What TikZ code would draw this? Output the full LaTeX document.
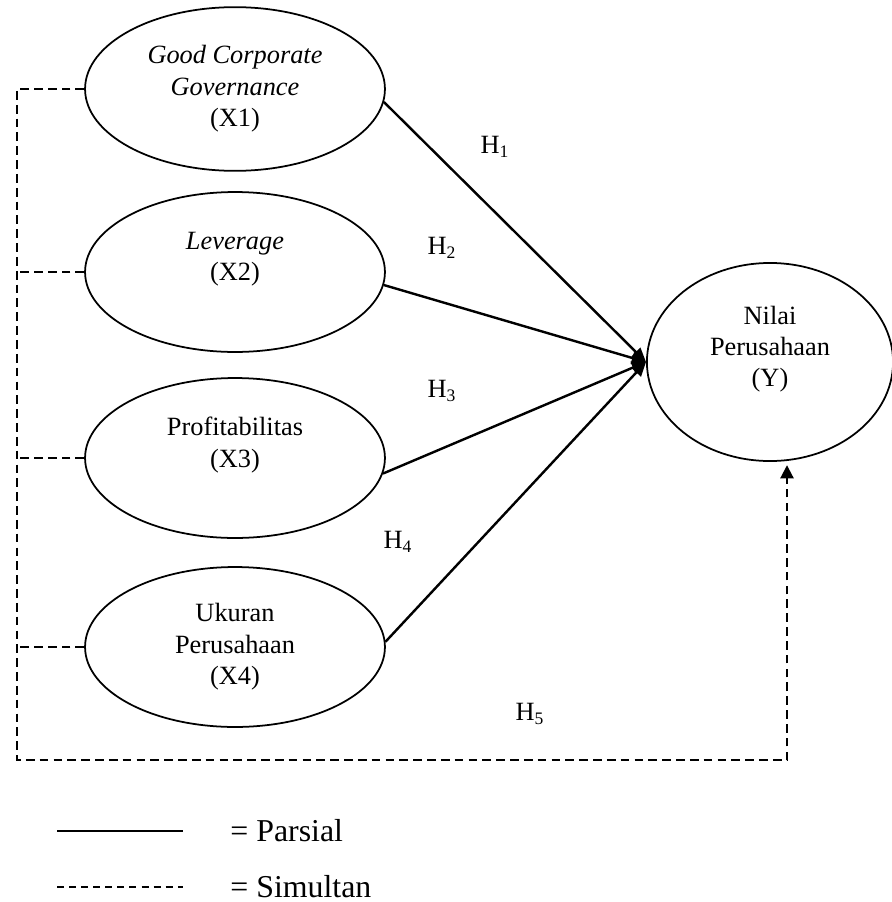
\documentclass[tikz,border=0pt]{standalone}
\usepackage{fontspec}
\setmainfont{Liberation Serif}
\usetikzlibrary{positioning, arrows.meta, shapes.geometric, calc}

\begin{document}
\begin{tikzpicture}[
    x=0.016cm, y=-0.016cm,
    every node/.style={font=\fontsize{12}{14.3}\selectfont},
    varx/.style={draw, ellipse, line width=0.8pt, inner sep=0pt,
                 minimum width=4.8cm, minimum height=2.56cm, align=center},
    hlabel/.style={inner sep=0pt},
    parsial/.style={line width=1.1pt, -{Triangle[length=6.5pt, width=5.5pt]}},
    simultan/.style={line width=0.9pt, dash pattern=on 4pt off 2.3pt},
    legdash/.style={line width=0.7pt, dash pattern=on 3.2pt off 2.3pt},
    legtext/.style={font=\fontsize{14.5}{17}\selectfont, anchor=west, inner sep=0pt},
  ]
  \useasboundingbox (0,0) rectangle (892,902);

  % variabel independen
  \node[varx, minimum height=2.62cm] (x1) at (235,89)
    {\textit{Good Corporate}\\\textit{Governance}\\(X1)};
  \node[varx] (x2) at (235,272) {\textit{Leverage}\\(X2)\\~};
  \node[varx] (x3) at (235,458) {Profitabilitas\\(X3)\\~};
  \node[varx] (x4) at (235,647) {Ukuran\\Perusahaan\\(X4)};

  % variabel dependen
  \node[varx, minimum width=3.94cm, minimum height=3.17cm] (yv) at (770,362)
    {Nilai\\Perusahaan\\(Y)\\~};

  % label hipotesis
  \node[hlabel] (h1) at (495,147) {H\textsubscript{1}};
  \node[hlabel] (h2) at (442,248) {H\textsubscript{2}};
  \node[hlabel] (h3) at (442,391) {H\textsubscript{3}};
  \node[hlabel] (h4) at (398,542) {H\textsubscript{4}};
  \node[hlabel] (h5) at (530,714) {H\textsubscript{5}};

  % pengaruh parsial
  \draw[parsial] (x1.-5) -- (yv.west);
  \draw[parsial] (x2.-5) -- (yv.west);
  \draw[parsial] (x3.-6) -- (yv.west);
  \draw[parsial] (x4.2) -- (yv.west);

  % pengaruh simultan
  \coordinate (cl) at (17,760);
  \coordinate (cr) at (787,760);
  \draw[simultan, -{Triangle[length=6pt, width=6pt]}, shorten >=1.5pt]
    (x1.west) -| (cl) -- (cr) -- (cr |- yv.south);
  \draw[simultan] (x2.west) -- (x2.west -| cl);
  \draw[simultan] (x3.west) -- (x3.west -| cl);
  \draw[simultan] (x4.west) -- (x4.west -| cl);

  % keterangan
  \coordinate (pa) at (57,831);
  \coordinate (pb) at (183,831);
  \coordinate (sa) at (57,887);
  \coordinate (sb) at (183,887);
  \draw[line width=0.9pt] (pa) -- (pb);
  \draw[legdash] (sa) -- (sb);
  \node[legtext] (lp) at (230,831) {= Parsial};
  \node[legtext] (ls) at (230,887) {= Simultan};
\end{tikzpicture}
\end{document}
